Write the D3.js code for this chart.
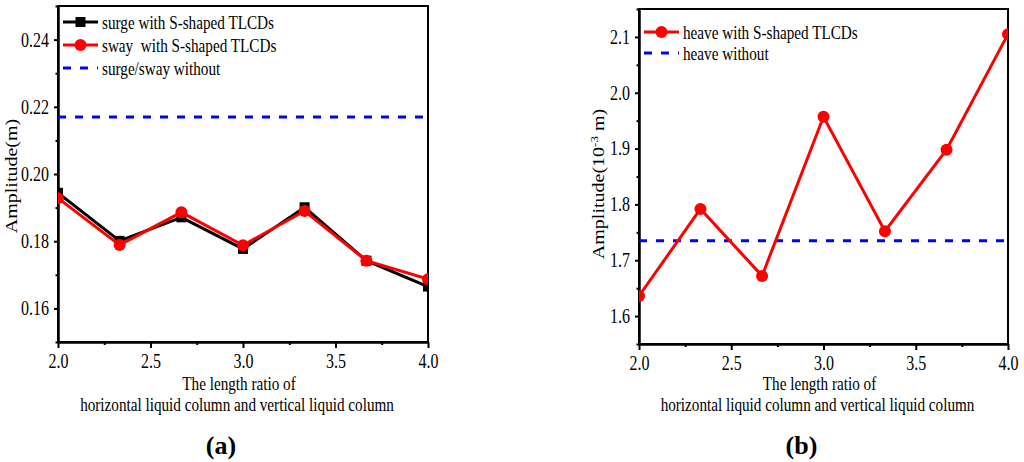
<!DOCTYPE html>
<html>
<head>
<meta charset="utf-8">
<script src="https://d3js.org/d3.v7.min.js"></script>
<style>
  body { margin: 0; background: #fff; }
  svg { display: block; }
  text { white-space: pre; }
  .axis path, .axis line { stroke: #000; stroke-width: 2; }
</style>
</head>
<body>
<script>
// data
var ratio = [2.0, 2.333, 2.667, 3.0, 3.333, 3.667, 4.0];
var surge = [0.1944, 0.1801, 0.1871, 0.1777, 0.1901, 0.1742, 0.1665];
var sway  = [0.1928, 0.1789, 0.1886, 0.1788, 0.1890, 0.1742, 0.1687];
var surgeSwayWithout = 0.217;
var heave = [1.636, 1.792, 1.672, 1.957, 1.752, 1.898, 2.105];
var heaveWithout = 1.735;

var xTicks = [2.0, 2.5, 3.0, 3.5, 4.0];
var xMinor = [2.25, 2.75, 3.25, 3.75];
var yTicksA = [0.16, 0.18, 0.20, 0.22, 0.24];
var yMinorA = [0.15, 0.17, 0.19, 0.21, 0.23, 0.25];
var yTicksB = [1.6, 1.7, 1.8, 1.9, 2.0, 2.1];
var yMinorB = [1.55, 1.65, 1.75, 1.85, 1.95, 2.05, 2.15];

var serif = '"Liberation Serif", "Times New Roman", serif';
var SX = 0.8;   // the figure is squeezed horizontally

var svg = d3.select('body').append('svg')
    .attr('width', 1024).attr('height', 462);

// horizontal text, squeezed in x
function label(g, x, y, s, size, anchor, weight) {
  return g.append('text')
    .attr('transform', 'translate(' + x + ',' + y + ') scale(' + SX + ',1)')
    .attr('text-anchor', anchor || 'start')
    .attr('font-family', serif)
    .attr('font-size', size)
    .attr('font-weight', weight || 'normal')
    .attr('fill', '#000')
    .text(s);
}

function panel(opt) {
  var x = d3.scaleLinear().domain([2, 4]).range([opt.left, opt.right]);
  var y = d3.scaleLinear().domain(opt.yDomain).range([opt.bottom, opt.top]);
  var g = svg.append('g');

  var clipId = 'clip' + opt.id;
  g.append('clipPath').attr('id', clipId).append('rect')
    .attr('x', opt.left).attr('y', opt.top)
    .attr('width', opt.right - opt.left).attr('height', opt.bottom - opt.top);

  // axes
  var xa = g.append('g').attr('class', 'axis')
    .attr('transform', 'translate(0,' + opt.bottom + ')')
    .call(d3.axisBottom(x).tickValues(xTicks).tickSize(6).tickPadding(6)
      .tickFormat(d3.format('.1f')).tickSizeOuter(0));
  g.append('g').attr('class', 'axis')
    .attr('transform', 'translate(0,' + opt.bottom + ')')
    .call(d3.axisBottom(x).tickValues(xMinor).tickSize(3).tickFormat('').tickSizeOuter(0));

  var ya = g.append('g').attr('class', 'axis')
    .attr('transform', 'translate(' + opt.left + ',0)')
    .call(d3.axisLeft(y).tickValues(opt.yTicks).tickSize(4).tickPadding(5)
      .tickFormat(d3.format(opt.yFormat)).tickSizeOuter(0));
  g.append('g').attr('class', 'axis')
    .attr('transform', 'translate(' + opt.left + ',0)')
    .call(d3.axisLeft(y).tickValues(opt.yMinor).tickSize(2.5).tickFormat('').tickSizeOuter(0));

  [xa, ya].forEach(function (a) {
    a.selectAll('text')
      .attr('font-family', serif).attr('font-size', 20).attr('fill', '#000')
      .each(function () {
        var t = d3.select(this);
        t.attr('x', (+t.attr('x') || 0) / SX).attr('transform', 'scale(' + SX + ',1)');
      });
  });

  // frame
  g.append('rect')
    .attr('x', opt.left).attr('y', opt.top)
    .attr('width', opt.right - opt.left).attr('height', opt.bottom - opt.top)
    .attr('fill', 'none').attr('stroke', '#000').attr('stroke-width', 2);

  var plot = g.append('g').attr('clip-path', 'url(#' + clipId + ')');

  // reference without damper
  plot.append('line')
    .attr('x1', x(2)).attr('x2', x(4))
    .attr('y1', y(opt.without)).attr('y2', y(opt.without))
    .attr('stroke', '#0000ff').attr('stroke-width', 3)
    .attr('stroke-dasharray', '8,9');

  var line = d3.line().x(function (d) { return x(d[0]); }).y(function (d) { return y(d[1]); });

  opt.series.forEach(function (s) {
    var pts = ratio.map(function (r, i) { return [r, s.values[i]]; });
    plot.append('path').datum(pts)
      .attr('d', line).attr('fill', 'none')
      .attr('stroke', s.color).attr('stroke-width', 3);
    if (s.shape === 'square') {
      plot.selectAll(null).data(pts).enter().append('rect')
        .attr('x', function (d) { return x(d[0]) - 5; })
        .attr('y', function (d) { return y(d[1]) - 5; })
        .attr('width', 10).attr('height', 10).attr('fill', s.color);
    } else {
      plot.selectAll(null).data(pts).enter().append('circle')
        .attr('cx', function (d) { return x(d[0]); })
        .attr('cy', function (d) { return y(d[1]); })
        .attr('r', 6).attr('fill', s.color);
    }
  });

  // legend
  var lx = opt.left + 5, lw = 35;
  opt.series.forEach(function (s, i) {
    var ly = opt.legendY + i * opt.legendStep;
    g.append('line').attr('x1', lx).attr('x2', lx + lw).attr('y1', ly).attr('y2', ly)
      .attr('stroke', s.color).attr('stroke-width', 3);
    if (s.shape === 'square') {
      g.append('rect').attr('x', lx + lw / 2 - 5).attr('y', ly - 5)
        .attr('width', 10).attr('height', 10).attr('fill', s.color);
    } else {
      g.append('circle').attr('cx', lx + lw / 2).attr('cy', ly).attr('r', 6).attr('fill', s.color);
    }
    label(g, lx + lw + 4, ly + 6.5, s.name, 19);
  });
  var dy = opt.legendY + opt.series.length * opt.legendStep;
  g.append('line').attr('x1', lx).attr('x2', lx + lw).attr('y1', dy).attr('y2', dy)
    .attr('stroke', '#0000ff').attr('stroke-width', 3).attr('stroke-dasharray', '8,9');
  label(g, lx + lw + 4, dy + 6.5, opt.withoutName, 19);

  // axis titles
  var cx = (opt.left + opt.right) / 2;
  label(g, cx - 4, 390, 'The length ratio of', 19, 'middle');
  label(g, cx - 6, 411, 'horizontal liquid column and vertical liquid column', 19, 'middle');
  g.append('text')
    .attr('x', cx - 22).attr('y', 454)
    .attr('text-anchor', 'middle')
    .attr('font-family', serif).attr('font-size', 26).attr('font-weight', 'bold')
    .text(opt.tag);

  var yt = g.append('text')
    .attr('transform', 'translate(' + opt.titleX + ',' + opt.titleY + ') rotate(-90) scale(1,' + SX + ')')
    .attr('text-anchor', 'middle')
    .attr('font-family', serif).attr('font-size', 20).attr('fill', '#000');
  opt.yTitle(yt);
}

panel({
  id: 'a', left: 58, right: 428, top: 6, bottom: 342,
  yDomain: [0.15, 0.25], yTicks: yTicksA, yMinor: yMinorA, yFormat: '.2f',
  without: surgeSwayWithout, withoutName: 'surge/sway without',
  legendY: 22, legendStep: 23,
  series: [
    { name: 'surge with S-shaped TLCDs', values: surge, color: '#000000', shape: 'square' },
    { name: 'sway  with S-shaped TLCDs', values: sway, color: '#ff0000', shape: 'circle' }
  ],
  tag: '(a)', titleX: 17, titleY: 176,
  yTitle: function (t) { t.text('Amplitude(m)'); }
});

panel({
  id: 'b', left: 639, right: 1008, top: 9, bottom: 344,
  yDomain: [1.55, 2.15], yTicks: yTicksB, yMinor: yMinorB, yFormat: '.1f',
  without: heaveWithout, withoutName: 'heave without',
  legendY: 32, legendStep: 21,
  series: [
    { name: 'heave with S-shaped TLCDs', values: heave, color: '#ff0000', shape: 'circle' }
  ],
  tag: '(b)', titleX: 604, titleY: 184,
  yTitle: function (t) {
    t.append('tspan').text('Amplitude(10');
    t.append('tspan').attr('font-size', 13).attr('dy', -8).text('-3');
    t.append('tspan').attr('dy', 8).text(' m)');
  }
});
</script>
</body>
</html>
